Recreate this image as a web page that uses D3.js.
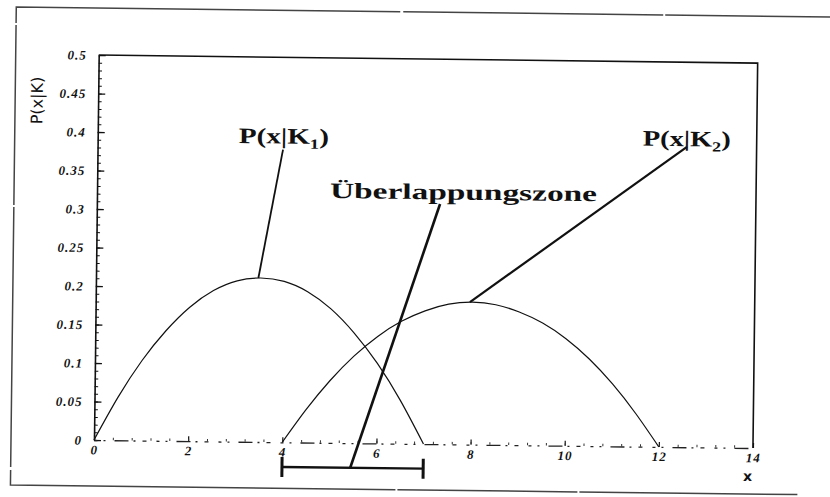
<!DOCTYPE html>
<html>
<head>
<meta charset="utf-8">
<script src="https://cdn.jsdelivr.net/npm/d3@7"></script>
<style>
  body { margin: 0; background: #fff; }
  svg { display: block; }
  .tick text { font-family: "Liberation Serif", serif; font-weight: bold; font-style: italic; font-size: 13px; letter-spacing: 1px; fill: #111; }
</style>
</head>
<body>
<div id="chart"></div>
<script>
// values
const xTicks = [0, 2, 4, 6, 8, 10, 12, 14];
const yTicks = [0, 0.05, 0.1, 0.15, 0.2, 0.25, 0.3, 0.35, 0.4, 0.45, 0.5];
const yTickLabels = ["0", "0.05", "0.1", "0.15", "0.2", "0.25", "0.3", "0.35", "0.4", "0.45", "0.5"];

const xK1 = [0, 0.5, 1, 1.5, 2, 2.5, 3, 3.5, 4, 4.5, 5, 5.5, 6, 6.5, 7];
const pK1 = [0, 0.056, 0.104, 0.143, 0.174, 0.196, 0.209, 0.213, 0.209, 0.196, 0.174, 0.143, 0.104, 0.056, 0];

const xK2 = [4, 4.5, 5, 5.5, 6, 6.5, 7, 7.5, 8, 8.5, 9, 9.5, 10, 10.5, 11, 11.5, 12];
const pK2 = [0, 0.043, 0.081, 0.113, 0.139, 0.159, 0.173, 0.182, 0.185, 0.182, 0.173, 0.159, 0.139, 0.113, 0.081, 0.043, 0];

// overlap zone shown by the bracket under the axis
const overlapZone = [4, 7];

// label pointers, in data units: [from, to]
const pointerK1 = [[3.94, 0.38], [3.45, 0.213]];
const pointerK2 = [[12.52, 0.39], [7.95, 0.185]];
const pointerZone = [[7.29, 0.312], [5.45, -0.032]];

const width = 830, height = 497;
const svg = d3.select("#chart").append("svg")
    .attr("width", width)
    .attr("height", height);

svg.append("rect").attr("width", width).attr("height", height).attr("fill", "#fff");

// the scanned page is slightly turned
const g = svg.append("g").attr("transform", "rotate(0.7, 94, 440)");

const x = d3.scaleLinear().domain([0, 14]).range([94, 753]);
const y = d3.scaleLinear().domain([0, 0.5]).range([440, 55]);

// page border
g.append("path")
    .attr("d", `M840,8 H11 V486 H798`)
    .attr("fill", "none")
    .attr("stroke", "#444")
    .attr("stroke-width", 1.5)
    .attr("stroke-dasharray", "180,2,260,3,400,2");

// plot frame: top and right
g.append("path")
    .attr("d", `M${x(0)},${y(0.5)} H${x(14)} V${y(0)}`)
    .attr("fill", "none")
    .attr("stroke", "#111")
    .attr("stroke-width", 1.6);

// y axis, ticks pointing inward
const yAxis = g.append("g")
    .attr("transform", `translate(${x(0)},0)`)
    .call(d3.axisLeft(y)
        .tickValues(yTicks)
        .tickFormat((d, i) => yTickLabels[i])
        .tickSizeInner(-7)
        .tickSizeOuter(0)
        .tickPadding(12));
yAxis.select(".domain").attr("stroke", "#111").attr("stroke-width", 1.6);
yAxis.selectAll(".tick line").attr("stroke", "#111").attr("stroke-width", 1.3);

g.append("g")
    .attr("transform", `translate(${x(0)},0)`)
    .call(d3.axisLeft(y)
        .tickValues(d3.range(0, 0.5, 0.01))
        .tickFormat("")
        .tickSizeInner(-3.5)
        .tickSizeOuter(0))
    .call(a => a.select(".domain").remove())
    .selectAll(".tick line").attr("stroke", "#111").attr("stroke-width", 1);

// x axis, broken like the scan
const xAxis = g.append("g")
    .attr("transform", `translate(0,${y(0)})`)
    .call(d3.axisBottom(x)
        .tickValues(xTicks)
        .tickSizeInner(-5)
        .tickSizeOuter(0)
        .tickPadding(5));
xAxis.select(".domain")
    .attr("stroke", "#222")
    .attr("stroke-width", 1.3)
    .attr("stroke-dasharray", "3,6,2,9,14,5,2,7,4,10");
xAxis.selectAll(".tick line").attr("stroke", "#111").attr("stroke-width", 1.2);

g.append("g")
    .attr("transform", `translate(0,${y(0)})`)
    .call(d3.axisBottom(x)
        .tickValues(d3.range(0, 14, 0.4))
        .tickFormat("")
        .tickSizeInner(-2.5)
        .tickSizeOuter(0))
    .call(a => a.select(".domain").remove())
    .selectAll(".tick line").attr("stroke", "#333").attr("stroke-width", 1);

// axis titles
g.append("text")
    .attr("transform", `translate(33,${y(0.44)}) rotate(-90)`)
    .attr("text-anchor", "middle")
    .attr("dominant-baseline", "central")
    .attr("font-family", "DejaVu Sans, sans-serif")
    .attr("font-size", 16)
    .attr("fill", "#111")
    .text("P(x|K)");

g.append("text")
    .attr("x", x(14) - 5)
    .attr("y", y(0) + 33)
    .attr("text-anchor", "middle")
    .attr("font-family", "DejaVu Sans, sans-serif")
    .attr("font-weight", "bold")
    .attr("font-size", 14)
    .attr("fill", "#111")
    .text("x");

// the two class densities
const line = d3.line()
    .x(d => x(d[0]))
    .y(d => y(d[1]))
    .curve(d3.curveNatural);

g.append("path")
    .datum(d3.zip(xK1, pK1))
    .attr("d", line)
    .attr("fill", "none")
    .attr("stroke", "#111")
    .attr("stroke-width", 1.2);

g.append("path")
    .datum(d3.zip(xK2, pK2))
    .attr("d", line)
    .attr("fill", "none")
    .attr("stroke", "#111")
    .attr("stroke-width", 1.2);

// pointers
const straight = d3.line().x(d => x(d[0])).y(d => y(d[1]));
[[pointerK1, 1.8], [pointerK2, 2.2], [pointerZone, 2.6]].forEach(([pts, w]) => {
    g.append("path")
        .attr("d", straight(pts))
        .attr("stroke", "#111")
        .attr("stroke-width", w)
        .attr("fill", "none");
});

// bracket for the overlap zone
const bracketY = -0.032;
g.append("path")
    .attr("d", straight(overlapZone.map(v => [v, bracketY])))
    .attr("stroke", "#111")
    .attr("stroke-width", 2.4);
overlapZone.forEach(v => {
    g.append("line")
        .attr("x1", x(v)).attr("x2", x(v))
        .attr("y1", y(bracketY) - 10).attr("y2", y(bracketY) + 10)
        .attr("stroke", "#111")
        .attr("stroke-width", 3);
});

// labels, glyphs stretched a bit like the scanned type
function subLabel(px, py, sub, len) {
    const t = g.append("text")
        .attr("x", px)
        .attr("y", py)
        .attr("font-family", "Liberation Serif, serif")
        .attr("font-weight", "bold")
        .attr("font-size", 22)
        .attr("fill", "#111")
        .attr("textLength", len)
        .attr("lengthAdjust", "spacingAndGlyphs");
    t.append("tspan").text("P(x|K");
    t.append("tspan").attr("font-size", 14).attr("dy", 5).text(sub);
    t.append("tspan").attr("dy", -5).text(")");
}
subLabel(x(3.0), y(0.388), "1", 90);
subLabel(x(11.58), y(0.391), "2", 88);

g.append("text")
    .attr("x", x(4.95))
    .attr("y", y(0.318))
    .attr("font-family", "Liberation Serif, serif")
    .attr("font-weight", "bold")
    .attr("font-size", 22)
    .attr("fill", "#111")
    .attr("textLength", 267)
    .attr("lengthAdjust", "spacingAndGlyphs")
    .text("Überlappungszone");
</script>
</body>
</html>
